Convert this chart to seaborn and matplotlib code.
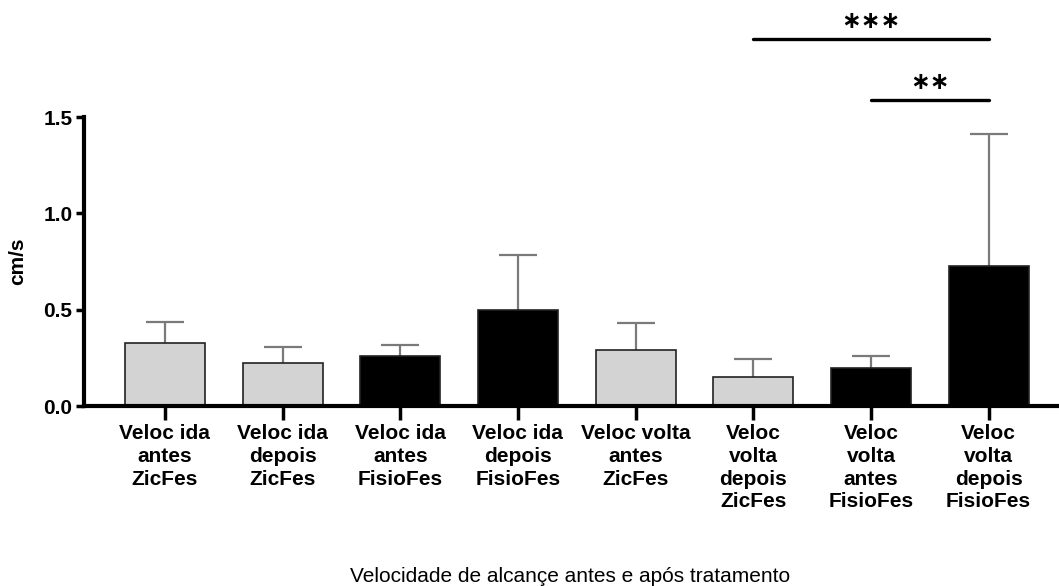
import matplotlib
matplotlib.use("Agg")
import matplotlib.pyplot as plt
import numpy as np
import pandas as pd
import seaborn as sns

categories = [
    "Veloc ida\nantes\nZicFes",
    "Veloc ida\ndepois\nZicFes",
    "Veloc ida\nantes\nFisioFes",
    "Veloc ida\ndepois\nFisioFes",
    "Veloc volta\nantes\nZicFes",
    "Veloc\nvolta\ndepois\nZicFes",
    "Veloc\nvolta\nantes\nFisioFes",
    "Veloc\nvolta\ndepois\nFisioFes",
]
means = [0.33, 0.225, 0.26, 0.50, 0.29, 0.15, 0.20, 0.725]
errors = [0.105, 0.08, 0.057, 0.285, 0.14, 0.097, 0.062, 0.69]
groups = ["ZicFes", "ZicFes", "FisioFes", "FisioFes", "ZicFes", "ZicFes", "FisioFes", "FisioFes"]

# significance brackets: (from index, to index, height, label)
brackets = [(5, 7, 1.905, "∗∗∗"), (6, 7, 1.588, "∗∗")]

sns.set_theme(style="white")
plt.rcParams["font.family"] = ["Liberation Sans", "DejaVu Sans"]
plt.rcParams["text.color"] = "black"
plt.rcParams["axes.labelcolor"] = "black"
plt.rcParams["xtick.color"] = "black"
plt.rcParams["ytick.color"] = "black"

df = pd.DataFrame({"cat": categories, "value": means, "group": groups})
colors = {"ZicFes": "#d3d3d3", "FisioFes": "#000000"}

fig = plt.figure(figsize=(10.59, 5.86), dpi=100)
ax = fig.add_axes([0.079, 0.307, 0.919, 0.493])

sns.barplot(data=df, x="cat", y="value", hue="group", palette=colors,
            dodge=False, width=0.68, edgecolor="#222222", linewidth=1.2,
            legend=False, ax=ax, zorder=2)

x = np.arange(len(categories))
_, caps, _ = ax.errorbar(x, means, yerr=[np.zeros(len(means)), errors], fmt="none",
                         ecolor="#7a7a7a", elinewidth=1.6, capsize=14, capthick=1.6,
                         zorder=1)
# upper-only error bars: hide the cap sitting on the bar top
caps[0].set_visible(False)

for i, j, h, label in brackets:
    ax.plot([i, j], [h, h], color="black", lw=2.4, clip_on=False)
    ax.text((i + j) / 2, h + 0.095, label, ha="center", va="center",
            fontsize=17, fontweight="bold", family="DejaVu Sans", clip_on=False)

ax.set_xlim(-0.69, 7.58)
ax.set_ylim(0, 1.5)
ax.set_yticks([0.0, 0.5, 1.0, 1.5])
ax.set_yticklabels(["0.0", "0.5", "1.0", "1.5"])

sns.despine(ax=ax)
for side in ("left", "bottom"):
    ax.spines[side].set_linewidth(3)
    ax.spines[side].set_color("black")

ax.tick_params(axis="y", which="major", direction="out", length=6, width=2.5,
               labelsize=15, pad=2, left=True)
ax.tick_params(axis="x", which="major", direction="out", length=10, width=2.5,
               labelsize=15, pad=3, bottom=True)
for lbl in ax.get_xticklabels() + ax.get_yticklabels():
    lbl.set_fontweight("bold")
for lbl in ax.get_xticklabels():
    lbl.set_linespacing(1.25)

ax.set_ylabel("cm/s", fontsize=15, fontweight="bold", labelpad=12)
ax.set_xlabel("Velocidade de alcançe antes e após tratamento", fontsize=15, labelpad=40)

fig.savefig("out.png", dpi=100)
